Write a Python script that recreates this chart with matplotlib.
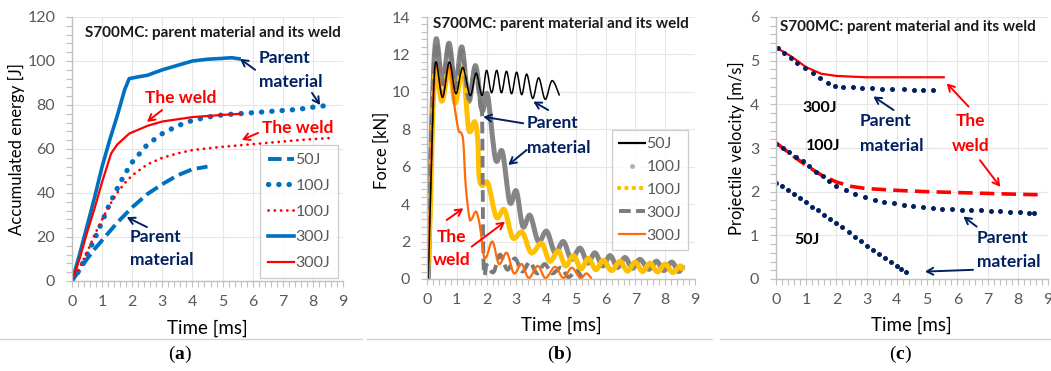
import matplotlib
matplotlib.use('Agg')
import numpy as np
import matplotlib.pyplot as plt
from matplotlib.ticker import MultipleLocator, AutoMinorLocator
from matplotlib.lines import Line2D
from matplotlib.path import Path
from matplotlib.patches import PathPatch

plt.rcParams['font.family'] = ['Lato', 'DejaVu Sans']
plt.rcParams['mathtext.fontset'] = 'custom'
plt.rcParams['mathtext.rm'] = 'Liberation Serif'
plt.rcParams['mathtext.bf'] = 'Liberation Serif:bold'

TITLE = "S700MC: parent material and its weld"
XLABEL = "Time [ms]"

# ---------------- (a) accumulated energy ----------------
a_t_50 = [0, 0.25, 0.5, 0.75, 1.0, 1.5, 2.0, 2.5, 3.0, 3.5, 4.0, 4.5]
a_e_50 = [0, 5, 10, 14.5, 18.5, 26.5, 33.5, 39.5, 44, 48, 50.8, 52]
a_t_100p = [0, 0.25, 0.5, 0.75, 1, 1.25, 1.5, 1.75, 2, 2.5, 3, 3.5, 4, 4.5, 5, 5.5, 6, 6.5, 7, 7.5, 8, 8.6]
a_e_100p = [0, 5, 12, 19, 27, 35, 42, 48.5, 54, 62, 67, 70.5, 73, 74.5, 75.5, 76, 76.5, 77, 77.5, 78, 79, 80]
a_t_100w = [0, 0.25, 0.5, 0.75, 1, 1.25, 1.5, 1.75, 2, 2.5, 3, 3.5, 4, 4.5, 5, 5.5, 6, 6.5, 7, 7.5, 8, 8.6]
a_e_100w = [0, 6, 13, 21, 28, 34.5, 40, 44.5, 48, 53, 56, 58, 59.5, 60.3, 61, 61.6, 62.2, 62.8, 63.4, 64, 64.5, 65]
a_t_300p = [0, 0.25, 0.5, 0.75, 1, 1.25, 1.5, 1.75, 1.9, 2.2, 2.5, 3, 3.5, 4, 4.5, 5, 5.3, 5.55]
a_e_300p = [0, 12, 25, 38, 52, 64, 75, 87, 92, 92.8, 93.5, 96, 98, 100, 100.8, 101.2, 101.5, 101]
a_t_300w = [0, 0.25, 0.5, 0.75, 1, 1.3, 1.5, 1.9, 2.5, 3, 3.5, 4, 4.5, 5, 5.6]
a_e_300w = [0, 10, 22, 33, 45, 58, 62, 67, 70.5, 72.5, 73.5, 74.5, 75, 75.5, 76]
a_labels = ["50J", "100J", "100J", "300J", "300J"]

# ---------------- (b) force ----------------
b_t_50 = [0, 0.05, 0.2, 0.3, 0.52, 0.75, 0.97, 1.2, 1.45, 1.65, 1.85, 2.0, 2.17, 2.34, 2.5, 2.67,
          2.84, 3.01, 3.18, 3.35, 3.55, 3.75, 3.97, 4.2, 4.45]
b_f_50 = [0, 0.5, 9.0, 11.6, 9.7, 11.6, 9.9, 11.3, 9.8, 11.0, 9.8, 11.15, 9.95, 11.15, 9.95, 11.1,
          9.9, 11.05, 9.85, 10.95, 9.65, 10.75, 9.6, 10.6, 9.8]
b_t_100p = [0, 0.05, 0.15, 0.3, 0.52, 0.74, 0.95, 1.17, 1.4, 1.63, 1.85, 2.03, 2.3, 2.53, 2.78, 3.0,
            3.22, 3.46, 3.74, 4.02, 4.3, 4.58, 4.85, 5.14, 5.4, 5.64, 5.9, 6.15, 6.4, 6.65, 6.9,
            7.15, 7.45, 7.71, 7.95, 8.22, 8.45, 8.6]
b_f_100p = [0, 0.3, 8.0, 12.8, 10.5, 12.6, 10.3, 12.4, 9.5, 11.4, 9.0, 9.85, 6.4, 6.8, 4.1, 4.7,
            2.8, 3.4, 2.0, 2.55, 1.4, 2.0, 1.05, 1.65, 0.85, 1.4, 0.7, 1.25, 0.62, 1.15, 0.57,
            1.05, 0.52, 0.95, 0.45, 0.9, 0.4, 0.75]
b_t_100w = [0, 0.1, 0.2, 0.3, 0.5, 0.75, 0.95, 1.2, 1.4, 1.6, 1.7, 1.75, 1.85, 2.05, 2.33, 2.6, 2.88,
            3.2, 3.5, 3.85, 4.12, 4.41, 4.65, 4.92, 5.17, 5.42, 5.67, 5.92, 6.2, 6.48, 6.73, 6.99,
            7.24, 7.49, 7.74, 8.0, 8.25, 8.5, 8.6]
b_f_100w = [0, 3, 9, 11.2, 9.5, 11.3, 9.4, 11.3, 8.0, 8.4, 7.5, 5.5, 5.0, 5.1, 3.3, 3.7, 2.2,
            2.5, 1.4, 1.9, 0.95, 1.5, 0.7, 1.25, 0.55, 1.1, 0.5, 1.0, 0.45, 0.95, 0.42, 0.9,
            0.4, 0.85, 0.38, 0.8, 0.35, 0.7, 0.45]
b_t_300p = [0, 0.15, 0.3, 0.52, 0.74, 0.95, 1.17, 1.4, 1.6, 1.8, 1.85, 1.9, 2.0, 2.1, 2.25, 2.45,
            2.7, 2.95, 3.2, 3.45, 3.7, 3.95, 4.2, 4.5, 4.75, 5.0, 5.2]
b_f_300p = [0, 8, 12.6, 10.4, 12.5, 10.2, 12.2, 9.6, 11.2, 9.2, 8.8, 0.8, 0.75, 0.5, 0.4, 1.3,
            0.5, 1.1, 0.4, 0.9, 0.3, 0.8, 0.3, 0.6, 0.1, 0.45, 0.1]
b_t_300w = [0, 0.1, 0.2, 0.32, 0.52, 0.74, 0.9, 1.05, 1.15, 1.22, 1.3, 1.42, 1.5, 1.65, 1.78,
            1.9, 2.0, 2.2, 2.42, 2.68, 2.92, 3.18, 3.42, 3.72, 3.98, 4.3, 4.58, 4.86, 5.15,
            5.35, 5.53]
b_f_300w = [0, 4, 9.5, 11.4, 9.8, 11.4, 9.5, 8.0, 7.8, 7.3, 5.0, 3.3, 3.2, 3.6, 2.8, 1.3, 1.2,
            2.0, 0.8, 1.4, 0.3, 0.8, 0.05, 0.7, 0.05, 0.65, 0.05, 0.6, 0.05, 0.3, 0.02]
b_labels = ["50J", "100J", "100J", "300J", "300J"]

# ---------------- (c) projectile velocity ----------------
c_t_300w = [0, 0.5, 1.0, 1.5, 2.0, 3.0, 4.0, 5.0, 5.55]
c_v_300w = [5.3, 5.1, 4.85, 4.7, 4.65, 4.62, 4.62, 4.62, 4.62]
c_t_300p = [0.05, 0.27, 0.49, 0.71, 0.96, 1.22, 1.46, 1.71, 1.95, 2.23, 2.54, 2.84, 3.17, 3.5,
            3.83, 4.22, 4.55, 4.88, 5.21]
c_v_300p = [5.28, 5.18, 5.07, 4.95, 4.83, 4.71, 4.6, 4.49, 4.43, 4.4, 4.39, 4.38, 4.37, 4.36,
            4.35, 4.34, 4.33, 4.33, 4.32]
c_t_100w = [0, 0.5, 1.0, 1.5, 2.0, 2.5, 3.0, 4.0, 5.0, 6.0, 7.0, 8.0, 8.7]
c_v_100w = [3.12, 2.85, 2.6, 2.38, 2.22, 2.12, 2.07, 2.03, 2.0, 1.98, 1.96, 1.94, 1.93]
c_t_100p = [0, 0.22, 0.44, 0.66, 0.88, 1.1, 1.32, 1.54, 1.76, 1.98, 2.3, 2.62, 2.94, 3.26, 3.58,
            3.9, 4.22, 4.54, 4.86, 5.18, 5.5, 5.82, 6.14, 6.46, 6.78, 7.1, 7.42, 7.74, 8.06,
            8.38, 8.55]
c_v_100p = [3.1, 3.0, 2.9, 2.8, 2.7, 2.58, 2.46, 2.35, 2.24, 2.14, 2.03, 1.95, 1.88, 1.82, 1.77,
            1.73, 1.7, 1.67, 1.65, 1.63, 1.61, 1.6, 1.59, 1.58, 1.57, 1.56, 1.55, 1.54, 1.53,
            1.52, 1.51]
c_t_50 = [0, 0.2, 0.4, 0.6, 0.8, 1.0, 1.2, 1.4, 1.6, 1.8, 2.0, 2.2, 2.4, 2.6, 2.8, 3.0, 3.2,
          3.4, 3.6, 3.8, 4.0, 4.15, 4.3]
c_v_50 = [2.2, 2.12, 2.03, 1.94, 1.85, 1.76, 1.66, 1.57, 1.47, 1.38, 1.28, 1.18, 1.08, 0.97,
          0.86, 0.76, 0.66, 0.57, 0.48, 0.39, 0.29, 0.22, 0.15]

NAVY = '#002060'
RED = '#FF0000'
BLUE = '#0070C0'

fig = plt.figure(figsize=(10.51, 3.71), dpi=100)
W, H = 1051.0, 371.0


def ax_at(l, r, t, b):
    return fig.add_axes([l / W, 1 - b / H, (r - l) / W, (b - t) / H])


def style(ax, ymax, ystep):
    ax.set_xlim(0, 9)
    ax.set_ylim(0, ymax)
    ax.xaxis.set_major_locator(MultipleLocator(1))
    ax.yaxis.set_major_locator(MultipleLocator(ystep))
    ax.xaxis.set_minor_locator(AutoMinorLocator(5))
    ax.yaxis.set_minor_locator(AutoMinorLocator(5))
    for s in ['top', 'right']:
        ax.spines[s].set_visible(False)
    for s in ['left', 'bottom']:
        ax.spines[s].set_color('#c0c0c0')
        ax.spines[s].set_linewidth(1.0)
    ax.tick_params(which='both', direction='out', color='#c0c0c0', length=4, width=0.8)
    ax.tick_params(which='major', labelcolor='#595959', labelsize=11.5)
    ax.tick_params(axis='x', which='major', pad=6)
    ax.tick_params(axis='y', which='major', pad=8)
    ax.grid(True, which='major', color='#e6e6e6', lw=0.8)
    ax.set_axisbelow(True)


def smooth_line(ax, x, y, **kw):
    """Excel-style smoothed line through the data points (Bezier rendering)."""
    pts = np.column_stack([x, y]).astype(float)
    n = len(pts)
    verts = [pts[0]]
    codes = [Path.MOVETO]
    for i in range(n - 1):
        p0 = pts[i - 1] if i > 0 else pts[i]
        p1, p2 = pts[i], pts[i + 1]
        p3 = pts[i + 2] if i + 2 < n else pts[i + 1]
        verts += [p1 + (p2 - p0) / 6.0, p2 - (p3 - p1) / 6.0, p2]
        codes += [Path.CURVE4] * 3
    patch = PathPatch(Path(verts, codes), fill=False, joinstyle='round', **kw)
    ax.add_patch(patch)
    return patch


def arrow(ax, frm, to, color):
    ax.annotate('', xy=to, xytext=frm,
                arrowprops=dict(arrowstyle='->,head_length=0.45,head_width=0.25',
                                color=color, lw=1.4, shrinkA=0, shrinkB=0))


TFS = 11.0   # title font size
AFS = 12.5   # annotation font size

# ---------- panel (a) ----------
axa = ax_at(72, 343, 17, 281)
style(axa, 120, 20)
l1, = axa.plot(a_t_50, a_e_50, color=BLUE, lw=2.8, dashes=(3.5, 1.4), label=a_labels[0])
l2, = axa.plot(a_t_100p, a_e_100p, color=BLUE, lw=3.8, dashes=(0.05, 1.9),
               dash_capstyle='round', label=a_labels[1])
l3, = axa.plot(a_t_100w, a_e_100w, color=RED, lw=2.0, dashes=(0.05, 2.2),
               dash_capstyle='round', label=a_labels[2])
l4, = axa.plot(a_t_300p, a_e_300p, color=BLUE, lw=2.6, label=a_labels[3])
l5, = axa.plot(a_t_300w, a_e_300w, color=RED, lw=1.6, label=a_labels[4])
leg = axa.legend(handles=[l1, l2, l3, l4, l5], loc='lower right', bbox_to_anchor=(0.982, 0.011),
                 borderaxespad=0, fontsize=11.5, labelcolor='#595959', frameon=True,
                 fancybox=False, edgecolor='#bfbfbf', handlelength=1.6, handletextpad=0.1,
                 labelspacing=0.72, borderpad=0.5)
leg.get_frame().set_linewidth(0.9)
axa.text(0.43, 112.7, TITLE, fontsize=TFS, fontweight='bold', color='#1a1a1a', va='center')
axa.text(0.5, -0.178, XLABEL, transform=axa.transAxes, ha='center', va='center', fontsize=13.5)
axa.text(-0.203, 0.5, "Accumulated energy [J]", transform=axa.transAxes, ha='center',
         va='center', rotation=90, fontsize=12)
axa.text(6.2, 101.4, "Parent", color=NAVY, fontsize=AFS, fontweight='bold', va='center')
axa.text(6.2, 90.5, "material", color=NAVY, fontsize=AFS, fontweight='bold', va='center')
arrow(axa, (6.08, 96), (5.58, 101), NAVY)
arrow(axa, (7.97, 85.5), (8.24, 80), NAVY)
axa.text(2.42, 83, "The weld", color=RED, fontsize=AFS, fontweight='bold', va='center')
arrow(axa, (2.99, 77.7), (2.49, 72.3), RED)
axa.text(6.3, 69.5, "The weld", color=RED, fontsize=AFS, fontweight='bold', va='center')
arrow(axa, (6.18, 67.3), (5.64, 64.1), RED)
axa.text(1.93, 20, "Parent", color=NAVY, fontsize=AFS, fontweight='bold', va='center')
axa.text(1.93, 9.5, "material", color=NAVY, fontsize=AFS, fontweight='bold', va='center')
arrow(axa, (2.49, 24.5), (1.82, 29), NAVY)

# ---------- panel (b) ----------
axb = ax_at(427, 695, 17, 279)
style(axb, 14, 2)
smooth_line(axb, b_t_100p, b_f_100p, edgecolor='#858585', lw=3.6)
smooth_line(axb, b_t_100w, b_f_100w, edgecolor='#FFC000', lw=3.6)
smooth_line(axb, b_t_300p, b_f_300p, edgecolor='#7a7a7a', lw=2.8, linestyle=(0, (3, 1.4)))
smooth_line(axb, b_t_300w, b_f_300w, edgecolor='#FF6A0A', lw=1.6)
smooth_line(axb, b_t_50, b_f_50, edgecolor='black', lw=1.1)
hb = [Line2D([], [], color='black', lw=1.6),
      Line2D([], [], color='#b0b0b0', marker='.', ms=5, ls='none'),
      Line2D([], [], color='#FFC000', lw=3.2, dashes=(0.05, 1.6), dash_capstyle='round'),
      Line2D([], [], color='#7a7a7a', lw=2.8, dashes=(3, 1.4)),
      Line2D([], [], color='#FF6A0A', lw=1.6)]
legb = axb.legend(hb, b_labels, loc='lower right', bbox_to_anchor=(0.975, 0.11),
                  borderaxespad=0, fontsize=11.5, labelcolor='#595959', frameon=True,
                  fancybox=False, edgecolor='#bfbfbf', handlelength=1.6, handletextpad=0.1,
                  labelspacing=0.55, borderpad=0.45)
legb.get_frame().set_linewidth(0.9)
axb.text(0.2, 13.6, TITLE, fontsize=TFS, fontweight='bold', color='#1a1a1a', va='center')
axb.text(0.503, -0.176, XLABEL, transform=axb.transAxes, ha='center', va='center', fontsize=13.5)
axb.text(-0.169, 0.49, "Force [kN]", transform=axb.transAxes, ha='center', va='center',
         rotation=90, fontsize=12)
axb.text(3.35, 8.32, "Parent", color=NAVY, fontsize=AFS, fontweight='bold', va='center')
axb.text(3.35, 6.98, "material", color=NAVY, fontsize=AFS, fontweight='bold', va='center')
arrow(axb, (3.23, 8.32), (1.89, 8.67), NAVY)
arrow(axb, (3.35, 6.9), (2.73, 6.09), NAVY)
arrow(axb, (4.07, 9.03), (3.57, 9.48), NAVY)
axb.text(0.83, 2.27, "The", color=RED, fontsize=AFS, fontweight='bold', ha='center', va='center')
axb.text(0.83, 1.03, "weld", color=RED, fontsize=AFS, fontweight='bold', ha='center', va='center')
arrow(axb, (0.66, 3.15), (1.22, 3.78), RED)
arrow(axb, (1.5, 1.73), (2.62, 3.06), RED)

# ---------- panel (c) ----------
axc = ax_at(776, 1048, 17, 279)
style(axc, 6, 1)
axc.plot(c_t_300w, c_v_300w, color=RED, lw=1.6)
axc.plot(c_t_100w, c_v_100w, color=RED, lw=2.6, dashes=(4, 2))
axc.plot(c_t_300p, c_v_300p, 'o', color=NAVY, ms=3.6, mec='none')
axc.plot(c_t_100p, c_v_100p, 'o', color=NAVY, ms=3.6, mec='none')
axc.plot(c_t_50, c_v_50, 'o', color=NAVY, ms=3.6, mec='none')
axc.text(0.13, 5.77, TITLE, fontsize=TFS, fontweight='bold', color='#1a1a1a', va='center')
axc.text(0.496, -0.176, XLABEL, transform=axc.transAxes, ha='center', va='center', fontsize=13.5)
axc.text(-0.145, 0.5, "Projectile velocity [m/s]", transform=axc.transAxes, ha='center',
         va='center', rotation=90, fontsize=12)
axc.text(1.46, 3.91, "300J", fontsize=11.5, fontweight='bold', ha='center', va='center')
axc.text(1.57, 3.04, "100J", fontsize=11.5, fontweight='bold', ha='center', va='center')
axc.text(1.02, 0.9, "50J", fontsize=11.5, fontweight='bold', ha='center', va='center')
axc.text(2.78, 3.61, "Parent", color=NAVY, fontsize=AFS, fontweight='bold', va='center')
axc.text(2.78, 3.04, "material", color=NAVY, fontsize=AFS, fontweight='bold', va='center')
arrow(axc, (3.89, 3.87), (3.22, 4.18), NAVY)
axc.text(6.42, 3.61, "The", color=RED, fontsize=AFS, fontweight='bold', ha='center', va='center')
axc.text(6.44, 3.04, "weld", color=RED, fontsize=AFS, fontweight='bold', ha='center', va='center')
arrow(axc, (6.37, 3.95), (5.65, 4.48), RED)
arrow(axc, (6.75, 2.72), (7.42, 2.11), RED)
axc.text(6.64, 0.94, "Parent", color=NAVY, fontsize=AFS, fontweight='bold', va='center')
axc.text(6.64, 0.4, "material", color=NAVY, fontsize=AFS, fontweight='bold', va='center')
arrow(axc, (6.64, 1.2), (6.2, 1.43), NAVY)
arrow(axc, (6.52, 0.21), (4.93, 0.17), NAVY)

# captions and separators
for x0, x1 in [(0, 362), (367, 712), (720, 1051)]:
    fig.add_artist(Line2D([x0 / W, x1 / W], [1 - 339 / H] * 2, color='#d4d4d4', lw=1.0,
                          transform=fig.transFigure))
for xc, lab in [(180, 'a'), (560, 'b'), (900, 'c')]:
    fig.text(xc / W, 1 - 354 / H, r'($\mathbf{' + lab + r'}$)', ha='center', va='center',
             fontsize=14, family='Liberation Serif')

fig.savefig('out.png', dpi=100)
